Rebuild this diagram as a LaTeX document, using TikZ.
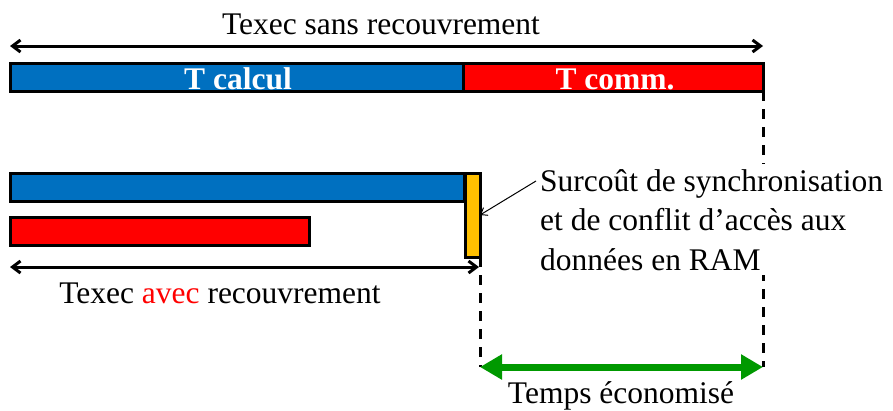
\documentclass[tikz,border=0pt]{standalone}
\usepackage{fontspec}
\setmainfont{Liberation Serif}
\usetikzlibrary{arrows.meta}
\definecolor{cblue}{HTML}{0070C0}
\definecolor{cred}{HTML}{FF0000}
\definecolor{corange}{HTML}{FFC000}
\definecolor{cgreen}{HTML}{009900}
\begin{document}
\begin{tikzpicture}[x=1pt,y=-1pt,
  bar/.style={draw=black, line width=3pt, anchor=north west, inner sep=0pt, outer sep=0pt},
  txt/.style={font=\fontsize{31.5}{39.5}\selectfont, inner sep=0pt},
  txtb/.style={font=\fontsize{31.5}{39.5}\selectfont\bfseries, text=white, inner sep=0pt},
  dim/.style={line width=3pt, {Straight Barb[length=8pt,width=12pt]}-{Straight Barb[length=8pt,width=12pt]}},
  guide/.style={line width=3pt, dash pattern=on 10pt off 8pt},
  gainarrow/.style={line width=7pt, draw=cgreen, {Triangle[length=22pt,width=24pt]}-{Triangle[length=22pt,width=24pt]}}]
\useasboundingbox (0,0) rectangle (893,410);

% top bars
\node[bar, fill=cblue, minimum width=453pt, minimum height=28pt] (calc) at (10,63) {};
\node[bar, fill=cred, minimum width=300pt, minimum height=28pt] (comm) at (463,63) {};
\node[txtb, anchor=base] (lcalc) at (238,89) {T calcul};
\node[txtb, anchor=base] (lcomm) at (615,89) {T comm.};

% top dimension
\coordinate (a1) at (10,46);
\coordinate (a2) at (763,46);
\draw[dim] (a1) -- (a2);
\node[txt, anchor=base] (title) at (381,34) {Texec sans recouvrement};

% overlapped bars
\node[bar, fill=cblue, minimum width=454pt, minimum height=28pt] (calc2) at (10,173) {};
\node[bar, fill=cred, minimum width=299pt, minimum height=28pt] (comm2) at (10,217) {};
\node[bar, fill=corange, minimum width=15pt, minimum height=84pt] (sync) at (465,173) {};

% bottom dimension
\coordinate (b1) at (10,267);
\coordinate (b2) at (479,267);
\draw[dim] (b1) -- (b2);
\node[txt, anchor=base] (avec) at (220,303) {Texec \textcolor{cred}{avec} recouvrement};

% guides
\coordinate (g0) at (480,367);
\coordinate (g1) at (763,367);
\draw[guide] (comm.south east) -- (g1);
\draw[guide] (sync.south east) -- (g0);

% gain arrow
\draw[gainarrow] (g0) -- (g1);
\node[txt, anchor=base] (gain) at (621,403) {Temps économisé};

% annotation
\node[txt, fill=white, inner sep=5pt, align=left, anchor=north west] (note) at (535,164)
  {Surcoût de synchronisation\\et de conflit d’accès aux\\données en RAM};
\coordinate (nt) at (536,181);
\draw[line width=1pt, -{Straight Barb[length=6pt,width=9pt]}] (nt) -- (sync.east);
\end{tikzpicture}
\end{document}
